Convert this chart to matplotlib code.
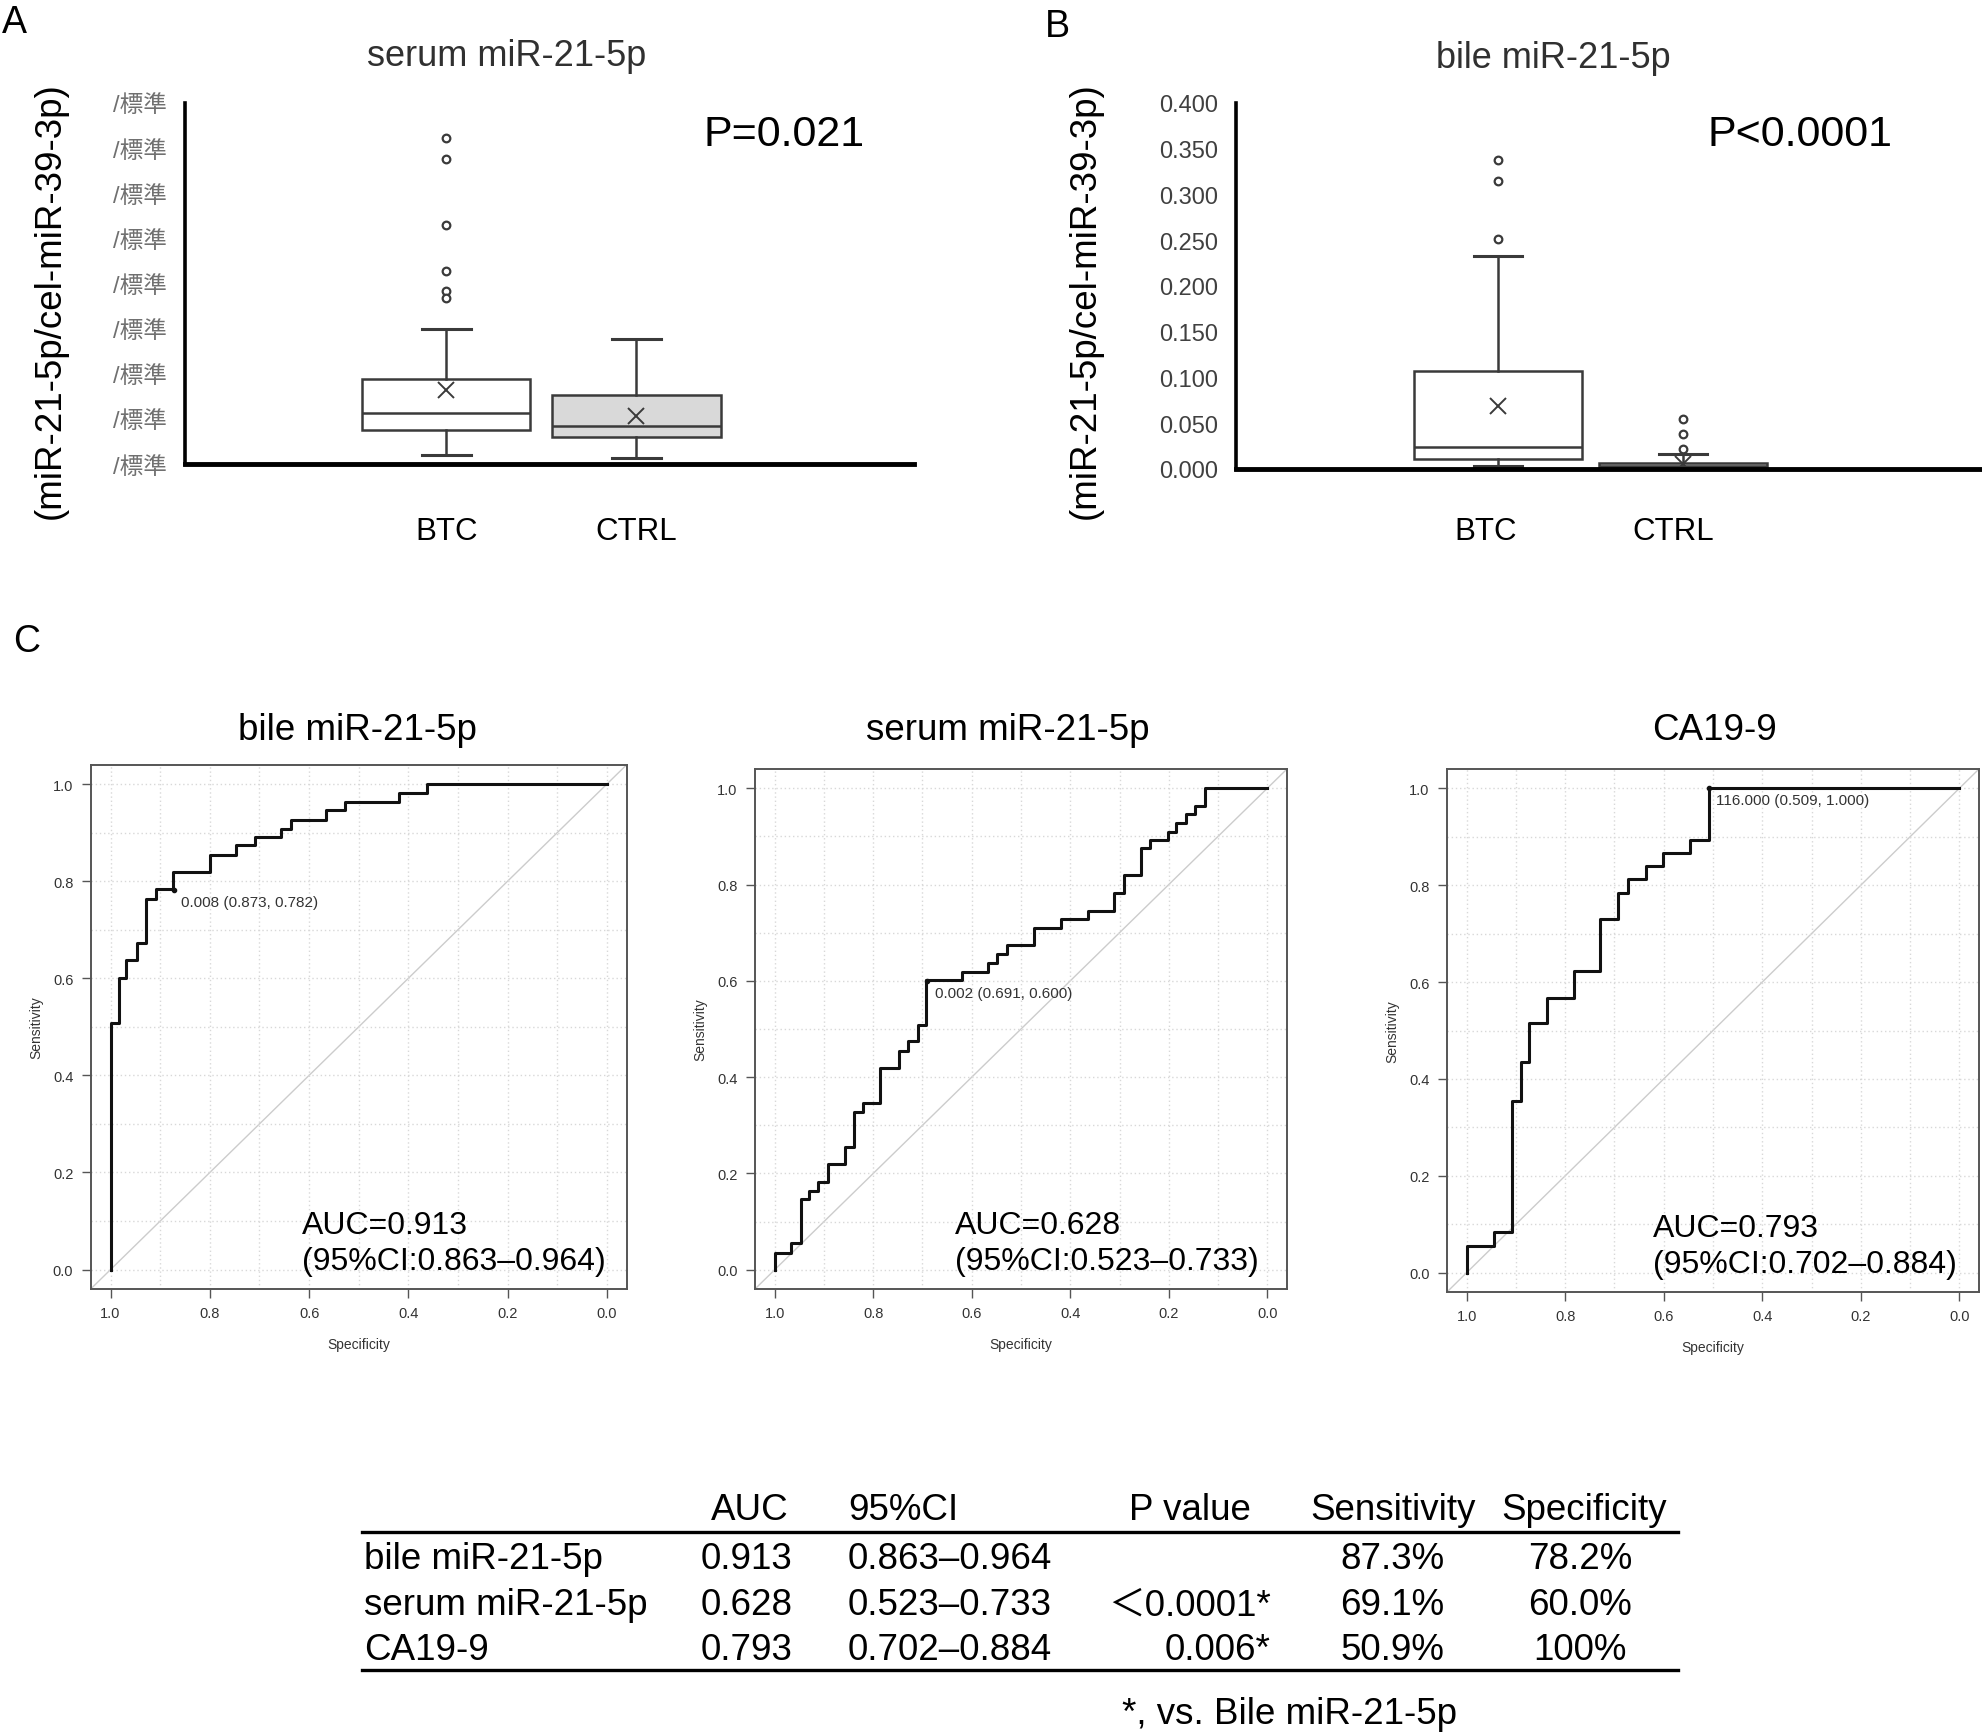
import matplotlib
matplotlib.use("Agg")
import matplotlib.pyplot as plt
import matplotlib.transforms as mtransforms

plt.rcParams['font.family'] = ['Liberation Sans', 'Noto Sans CJK JP', 'DejaVu Sans']

W, H = 1982, 1733

# ---------------- data: box plots (A, B) ----------------
groups = ["BTC", "CTRL"]
box_faces = ["white", "#d9d9d9"]

serum_q1 = [0.75, 0.59]
serum_med = [1.12, 0.85]
serum_q3 = [1.89, 1.52]
serum_whislo = [0.21, 0.13]
serum_whishi = [3.00, 2.78]
serum_mean = [1.63, 1.06]
serum_fliers = [[7.22, 6.75, 5.29, 4.28, 3.84, 3.67], []]
serum_ticks = [0, 1, 2, 3, 4, 5, 6, 7, 8]
serum_ticklabels = ["/標準"] * 9

bile_q1 = [0.0105, 0.0010]
bile_med = [0.0239, 0.0030]
bile_q3 = [0.1068, 0.0071]
bile_whislo = [0.0030, 0.0000]
bile_whishi = [0.2325, 0.0159]
bile_mean = [0.0690, 0.0060]
bile_fliers = [[0.338, 0.315, 0.251], [0.055, 0.038, 0.022]]
bile_ticks = [0.0, 0.05, 0.10, 0.15, 0.20, 0.25, 0.30, 0.35, 0.40]
bile_ticklabels = ["0.000", "0.050", "0.100", "0.150", "0.200", "0.250", "0.300", "0.350", "0.400"]

# ---------------- data: ROC curves (C) ----------------
roc_titles = ["bile miR-21-5p", "serum miR-21-5p", "CA19-9"]

bile_spec = [1.0, 1.0, 0.983, 0.968, 0.946, 0.929, 0.908, 0.874, 0.800, 0.747,
             0.708, 0.657, 0.637, 0.565, 0.527, 0.418, 0.363, 0.0]
bile_sens = [0.0, 0.508, 0.601, 0.638, 0.673, 0.764, 0.783, 0.820, 0.855, 0.875,
             0.892, 0.908, 0.927, 0.946, 0.964, 0.981, 1.0, 1.0]

serum_spec = [1.0, 1.0, 0.966, 0.946, 0.930, 0.912, 0.891, 0.857, 0.839, 0.820,
              0.786, 0.747, 0.730, 0.710, 0.692, 0.620, 0.566, 0.548, 0.529, 0.473,
              0.418, 0.363, 0.312, 0.291, 0.256, 0.238, 0.202, 0.185, 0.166, 0.147,
              0.126, 0.0]
serum_sens = [0.0, 0.034, 0.056, 0.147, 0.164, 0.183, 0.219, 0.255, 0.327, 0.347,
              0.419, 0.454, 0.475, 0.509, 0.601, 0.619, 0.637, 0.656, 0.674, 0.710,
              0.729, 0.746, 0.783, 0.820, 0.875, 0.892, 0.910, 0.928, 0.946, 0.964,
              1.0, 1.0]

ca199_spec = [1.0, 1.0, 0.945, 0.909, 0.890, 0.873, 0.837, 0.783, 0.729, 0.692,
              0.673, 0.637, 0.601, 0.546, 0.509, 0.0]
ca199_sens = [0.0, 0.054, 0.083, 0.355, 0.434, 0.515, 0.568, 0.623, 0.731, 0.784,
              0.812, 0.839, 0.866, 0.893, 1.0, 1.0]

thr_spec = [0.873, 0.691, 0.509]
thr_sens = [0.782, 0.600, 1.000]
thr_cut = ["0.008", "0.002", "116.000"]

# ---------------- data: table ----------------
table_header = ["AUC", "95%CI", "P value", "Sensitivity", "Specificity"]
table_rows = ["bile miR-21-5p", "serum miR-21-5p", "CA19-9"]
table_auc = ["0.913", "0.628", "0.793"]
table_ci = ["0.863–0.964", "0.523–0.733", "0.702–0.884"]
table_p = ["", "＜0.0001*", "0.006*"]
table_sens = ["87.3%", "69.1%", "50.9%"]
table_spec = ["78.2%", "60.0%", "100%"]
table_note = "*, vs. Bile miR-21-5p"


def fx(px):
    return px / W


def fy(py):
    return 1 - py / H


fig = plt.figure(figsize=(W / 100, H / 100), dpi=100)


def box_panel(rect, xlim, ylim, width, q1, med, q3, lo, hi, mean, fliers, ticks, ticklabels,
              tick_color, lab_x):
    ax = fig.add_axes(rect)
    stats = []
    for i in range(len(groups)):
        stats.append(dict(q1=q1[i], med=med[i], q3=q3[i], whislo=lo[i], whishi=hi[i],
                          mean=mean[i], fliers=fliers[i], label=groups[i]))
    bp = ax.bxp(stats, positions=[1, 2], widths=width, capwidths=0.26, patch_artist=True,
                showmeans=True,
                boxprops=dict(edgecolor="#3a3a3a", linewidth=1.8),
                medianprops=dict(color="#3a3a3a", linewidth=1.8),
                whiskerprops=dict(color="#3a3a3a", linewidth=1.8),
                capprops=dict(color="#3a3a3a", linewidth=2.2),
                meanprops=dict(marker="x", markersize=11, markeredgecolor="#3a3a3a",
                               markeredgewidth=1.4),
                flierprops=dict(marker="o", markersize=5.5, markerfacecolor="white",
                                markeredgecolor="#3a3a3a", markeredgewidth=1.6))
    for patch, fc in zip(bp["boxes"], box_faces):
        patch.set_facecolor(fc)
    ax.set_xlim(*xlim)
    ax.set_ylim(*ylim)
    for s in ["top", "right"]:
        ax.spines[s].set_visible(False)
    ax.spines["left"].set_linewidth(2.6)
    ax.spines["bottom"].set_linewidth(3.5)
    ax.spines["bottom"].set_zorder(5)
    ax.set_yticks(ticks)
    ax.set_yticklabels(ticklabels, color=tick_color, fontsize=17)
    ax.tick_params(axis="y", length=0, pad=13)
    ax.set_xticks([])
    trans = mtransforms.blended_transform_factory(ax.transData, fig.transFigure)
    for x, g in zip(lab_x, groups):
        ax.text(x, fy(532), g, transform=trans, ha="center", va="center", fontsize=22.5)
    return ax


box_panel([fx(185), fy(465), fx(729), 361 / H], (-0.374, 3.46), (0, 8), 0.885,
          serum_q1, serum_med, serum_q3, serum_whislo, serum_whishi, serum_mean,
          serum_fliers, serum_ticks, serum_ticklabels, "#707070", [1, 2])
box_panel([fx(1236), fy(470), fx(746), 366 / H], (-0.42, 3.62), (0, 0.4), 0.91,
          bile_q1, bile_med, bile_q3, bile_whislo, bile_whishi, bile_mean,
          bile_fliers, bile_ticks, bile_ticklabels, "#404040", [0.93, 1.95])

fig.text(fx(507), fy(57), "serum miR-21-5p", ha="center", va="center", fontsize=26, color="#303030")
fig.text(fx(1553), fy(59), "bile miR-21-5p", ha="center", va="center", fontsize=26, color="#303030")
fig.text(fx(784), fy(135), "P=0.021", ha="center", va="center", fontsize=31)
fig.text(fx(1800), fy(135), "P<0.0001", ha="center", va="center", fontsize=31)
for xp in [50, 1085]:
    fig.text(fx(xp), fy(301), "(miR-21-5p/cel-miR-39-3p)", ha="center", va="center",
             rotation=90, fontsize=26.5)

fig.text(fx(2), fy(23), "A", ha="left", va="center", fontsize=27)
fig.text(fx(1045), fy(27), "B", ha="left", va="center", fontsize=27)
fig.text(fx(13), fy(642), "C", ha="left", va="center", fontsize=27)

# ---------------- ROC panels ----------------
roc_rects = [[fx(90.7), fy(1290), fx(536), 524.3 / H],
             [fx(755), fy(1290), fx(532), 520 / H],
             [fx(1447), fy(1293), fx(532), 523 / H]]
roc_title_x = [357, 1008, 1715]
auc_x = [0.394, 0.376, 0.387]
curves = [(bile_spec, bile_sens), (serum_spec, serum_sens), (ca199_spec, ca199_sens)]

for i in range(3):
    ax = fig.add_axes(roc_rects[i])
    ax.set_xlim(1.04, -0.04)
    ax.set_ylim(-0.04, 1.04)
    ax.set_xticks([1.0, 0.8, 0.6, 0.4, 0.2, 0.0])
    ax.set_yticks([0.0, 0.2, 0.4, 0.6, 0.8, 1.0])
    ax.set_xticks([0.9, 0.7, 0.5, 0.3, 0.1], minor=True)
    ax.set_yticks([0.1, 0.3, 0.5, 0.7, 0.9], minor=True)
    ax.xaxis.set_major_formatter(plt.FuncFormatter(lambda v, p: f"{v:.1f}"))
    ax.yaxis.set_major_formatter(plt.FuncFormatter(lambda v, p: f"{v:.1f}"))
    ax.grid(True, which="both", color="#d8d8d8", linestyle=(0, (1, 2)), linewidth=1.0)
    ax.tick_params(which="major", length=6.5, width=1.0, color="#555555",
                   labelsize=10.5, labelcolor="#333333", pad=6)
    ax.tick_params(which="minor", length=0)
    for s in ax.spines.values():
        s.set_color("#555555")
        s.set_linewidth(1.4)
    ax.axline((1, 0), (0, 1), color="#cccccc", linewidth=1.0, zorder=1)
    spec, sens = curves[i]
    ax.plot(spec, sens, drawstyle="steps-post", color="#111111", linewidth=2.2, zorder=3)
    ax.plot(thr_spec[i], thr_sens[i], "o", color="#111111", markersize=3, zorder=4)
    ax.annotate(f"{thr_cut[i]} ({thr_spec[i]:.3f}, {thr_sens[i]:.3f})",
                (thr_spec[i], thr_sens[i]), xytext=(5.5, -8.5), textcoords="offset points",
                ha="left", va="center", fontsize=11, color="#333333")
    ax.text(auc_x[i], 0.088, f"AUC={table_auc[i]}\n(95%CI:{table_ci[i]})",
            transform=ax.transAxes, ha="left", va="center", fontsize=23, linespacing=1.25)
    ax.text(-0.102, 0.5, "Sensitivity", transform=ax.transAxes, rotation=90,
            ha="center", va="center", fontsize=10, color="#333333")
    ax.text(0.5, -0.105, "Specificity", transform=ax.transAxes,
            ha="center", va="center", fontsize=10, color="#333333")
    fig.text(fx(roc_title_x[i]), fy(730), roc_titles[i], ha="center", va="center", fontsize=26.5)

# ---------------- table ----------------
tax = fig.add_axes([0, 0, 1, 1], zorder=-1)
tax.set_xlim(0, W)
tax.set_ylim(H, 0)
tax.axis("off")

fs = 26.5
head_y, row_y = 1511, [1560, 1606, 1651]
tax.text(750, head_y, table_header[0], ha="center", va="center", fontsize=fs)
tax.text(848, head_y, table_header[1], ha="left", va="center", fontsize=fs)
tax.text(1190, head_y, table_header[2], ha="center", va="center", fontsize=fs)
tax.text(1393, head_y, table_header[3], ha="center", va="center", fontsize=fs)
tax.text(1584, head_y, table_header[4], ha="center", va="center", fontsize=fs)
tax.plot([362, 1678], [1533, 1533], color="black", linewidth=2.4)
tax.plot([362, 1678], [1671, 1671], color="black", linewidth=2.4)
for j in range(3):
    y = row_y[j]
    tax.text(364, y, table_rows[j], ha="left", va="center", fontsize=fs)
    tax.text(747, y, table_auc[j], ha="center", va="center", fontsize=fs)
    tax.text(848, y, table_ci[j], ha="left", va="center", fontsize=fs)
    tax.text(1271, y, table_p[j], ha="right", va="center", fontsize=fs)
    tax.text(1444, y, table_sens[j], ha="right", va="center", fontsize=fs)
    tax.text(1580, y, table_spec[j], ha="center", va="center", fontsize=fs)
tax.text(1289, 1715, table_note, ha="center", va="center", fontsize=fs)

fig.savefig("out.png", dpi=100)
